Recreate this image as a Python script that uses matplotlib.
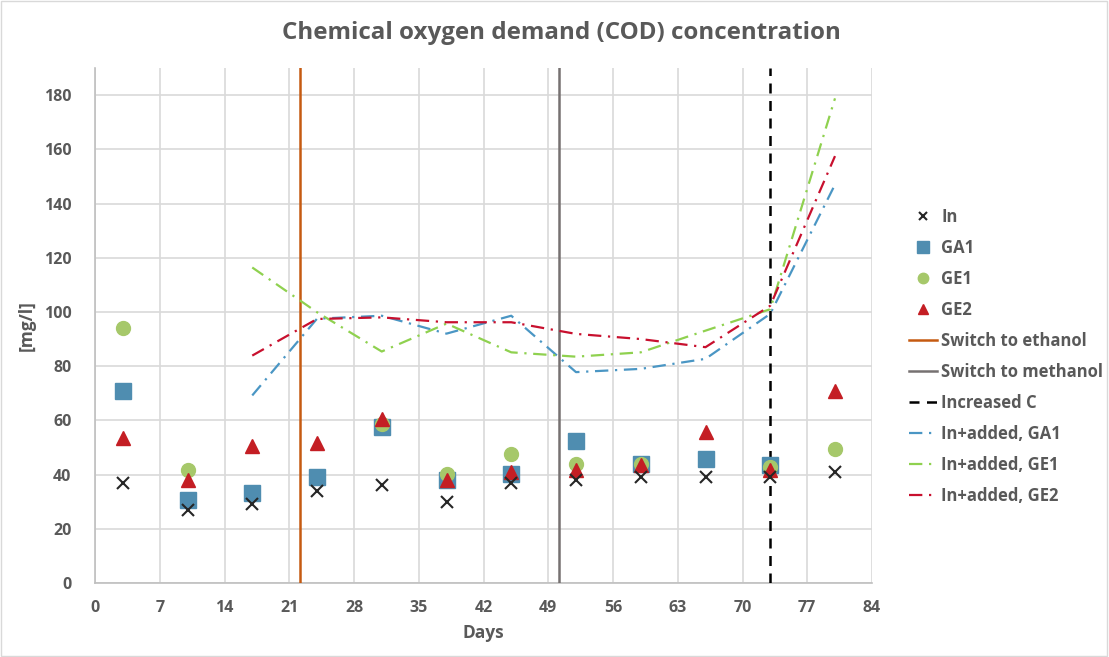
import matplotlib
matplotlib.use("Agg")
import matplotlib.pyplot as plt
import numpy as np

plt.rcParams['font.family'] = ['Open Sans', 'DejaVu Sans']

days = [3, 10, 17, 24, 31, 38, 45, 52, 59, 66, 73, 80]
cod_in = [37, 27, 29, 34, 36, 30, 37, 38, 39, 39, 39, 41]
ga1 = [71, 30.8, 33.2, 39.1, 57.5, 37.9, 40.1, 52.4, 43.8, 45.6, 43.5, np.nan]
ge1 = [94, 41.8, np.nan, np.nan, 58.8, 40.1, 47.7, 44, 44, np.nan, 42.8, 49.6]
ge2 = [53.6, 37.9, 50.5, 51.6, 60.6, 37.9, 41, 41.8, 43.4, 55.7, 41.8, 71]

line_days = [17, 24, 31, 38, 45, 52, 59, 66, 73, 80]
added_ga1 = [69.2, 97.5, 98.6, 92, 98.6, 77.8, 79, 82.7, 99.3, 147]
added_ge1 = [116.4, 99.9, 85.4, 95.7, 85.1, 83.5, 85.1, 93.1, 101, 178.8]
added_ge2 = [83.9, 97.4, 98, 96.2, 96.2, 91.9, 90, 87, 102.3, 157.5]

switch_ethanol = 22.2
switch_methanol = 50.2
increased_c = 73.0

xticks = list(range(0, 85, 7))
yticks = list(range(0, 181, 20))

grey_txt = '#595959'
fig = plt.figure(figsize=(11.09, 6.57), dpi=100)
fig.patch.set_facecolor('white')
ax = fig.add_axes([95/1109, 1-583/657, (872-95)/1109, (583-68)/657])

ax.set_xlim(0, 84)
ax.set_ylim(0, 190)
ax.set_xticks(xticks)
ax.set_yticks(yticks)
ax.grid(True, color='#D9D9D9', linewidth=1.2)
ax.set_axisbelow(True)
for s in ['top', 'right']:
    ax.spines[s].set_visible(False)
for s in ['left', 'bottom']:
    ax.spines[s].set_color('#BFBFBF')
    ax.spines[s].set_linewidth(1.2)
ax.tick_params(length=0, labelsize=11.5, labelcolor=grey_txt)
ax.tick_params(axis='y', pad=17)
ax.tick_params(axis='x', pad=12)
for lbl in ax.get_xticklabels() + ax.get_yticklabels():
    lbl.set_fontweight('bold')

h_in, = ax.plot(days, cod_in, linestyle='none', marker='x', color='#262626',
                markersize=8, markeredgewidth=1.5, label='In', zorder=5)
h_ga1, = ax.plot(days, ga1, linestyle='none', marker='s', color='#4F8DB0',
                 markersize=11, label='GA1', zorder=4)
h_ge1, = ax.plot(days, ge1, linestyle='none', marker='o', color='#A6C86A',
                 markersize=10, label='GE1', zorder=4)
h_ge2, = ax.plot(days, ge2, linestyle='none', marker='^', color='#C41E24',
                 markersize=10, label='GE2', zorder=4)

h_eth = ax.axvline(switch_ethanol, color='#C55A11', linewidth=1.8, label='Switch to ethanol', zorder=3)
h_met = ax.axvline(switch_methanol, color='#767171', linewidth=1.8, label='Switch to methanol', zorder=3)
h_inc = ax.axvline(increased_c, color='black', linewidth=1.8, linestyle=(0, (4, 3)), label='Increased C', zorder=3)

dd = (0, (6, 3, 1, 3))
h_aga1, = ax.plot(line_days, added_ga1, color='#4A96C4', linewidth=1.6, linestyle=dd,
                  label='In+added, GA1', zorder=3)
h_age1, = ax.plot(line_days, added_ge1, color='#8FD14F', linewidth=1.6, linestyle=dd,
                  label='In+added, GE1', zorder=3)
h_age2, = ax.plot(line_days, added_ge2, color='#C8102E', linewidth=1.6, linestyle=dd,
                  label='In+added, GE2', zorder=3)

ax.set_xlabel('Days', fontsize=12.5, fontweight='bold', color=grey_txt, labelpad=6)
ax.set_ylabel('[mg/l]', fontsize=12.5, fontweight='bold', color=grey_txt, labelpad=6)
fig.text(561/1109, 1-33/657, 'Chemical oxygen demand (COD) concentration', ha='center', va='center',
         fontsize=17.4, fontweight='bold', color=grey_txt)

handles = [h_in, h_ga1, h_ge1, h_ge2, h_eth, h_met, h_inc, h_aga1, h_age1, h_age2]
leg = fig.legend(handles=handles, loc='upper left', bbox_to_anchor=(902/1109, 1-201/657),
                 frameon=False, fontsize=12, labelspacing=0.78, handlelength=1.7,
                 handletextpad=0.25, borderaxespad=0, markerscale=0.75)
for t in leg.get_texts():
    t.set_color(grey_txt)
    t.set_fontweight('bold')

border = plt.Rectangle((0.001, 0.001), 0.997, 0.997, transform=fig.transFigure,
                       fill=False, edgecolor='#D9D9D9', linewidth=1)
fig.patches.append(border)

fig.savefig('out.png', dpi=100)
